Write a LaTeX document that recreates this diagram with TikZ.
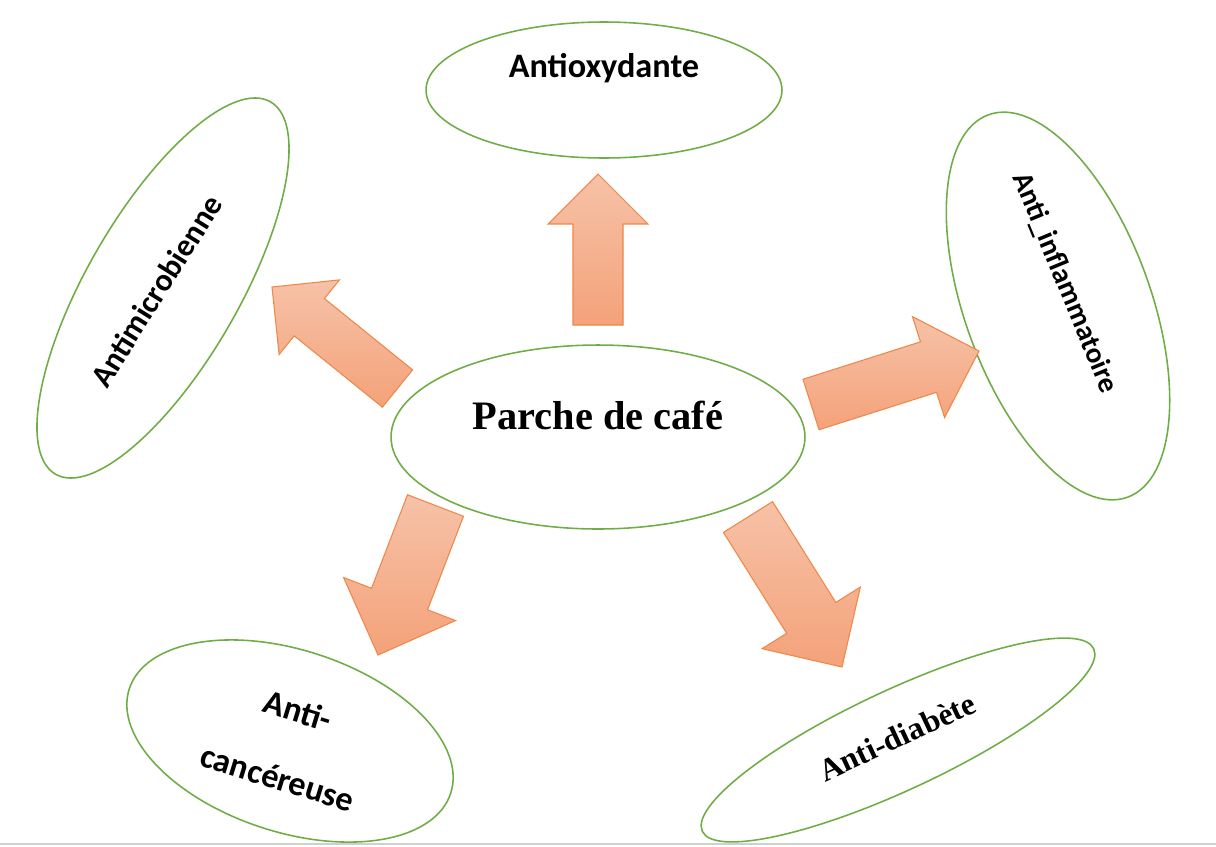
\documentclass[tikz,border=0pt]{standalone}
\usepackage{fontspec}
\setmainfont{Liberation Serif}
\newfontfamily\carlito{Carlito}
\usetikzlibrary{shapes.geometric,calc}

\definecolor{leafgreen}{RGB}{112,173,71}
\definecolor{peachtop}{RGB}{246,194,168}
\definecolor{peachbot}{RGB}{244,162,121}
\definecolor{peachline}{RGB}{238,135,72}
\definecolor{pagerule}{RGB}{208,208,208}

\tikzset{
  bubble/.style={ellipse, draw=leafgreen, line width=0.9pt, inner sep=0pt},
  sanslbl/.style={font=\carlito\bfseries\fontsize{#1}{40}\selectfont, align=center, inner sep=0pt},
  seriflbl/.style={font=\bfseries\fontsize{#1}{28}\selectfont, inner sep=0pt},
  arrowbody/.style={top color=peachtop, bottom color=peachbot, draw=peachline, line width=0.6pt, line join=miter}
}

% block arrow: #1 tail, #2 tip, #3 half width of the shaft (cm)
\newcommand{\blockarrow}[3]{%
  \pgfmathsetmacro{\arrowhw}{2*#3}%
  \coordinate (hb) at ($(#2)!\arrowhw cm!(#1)$);
  \shade[arrowbody] ($(#1)!#3cm!90:(#2)$) -- ($(hb)!#3cm!90:(#2)$)
    -- ($(hb)!\arrowhw cm!90:(#2)$) -- (#2) -- ($(hb)!\arrowhw cm!-90:(#2)$)
    -- ($(hb)!#3cm!-90:(#2)$) -- ($(#1)!#3cm!-90:(#2)$) -- cycle;
}

\begin{document}
\begin{tikzpicture}[x=0.02cm, y=-0.02cm]
    \useasboundingbox (0,0) rectangle (1216,846);

    % the six bubbles
    \node[bubble, minimum width=8.28cm, minimum height=3.68cm] (parche) at (598,437) {};
    \node[bubble, minimum width=7.12cm, minimum height=2.72cm] (antiox) at (604,90) {};
    \node[bubble, minimum width=8.6cm, minimum height=3.04cm, rotate=60] (microb) at (163,288) {};
    \node[bubble, minimum width=8.14cm, minimum height=3.72cm, rotate=-70] (inflam) at (1058,306) {};
    \node[bubble, minimum width=6.76cm, minimum height=3.64cm, rotate=-18] (cancer) at (290,741) {};
    \node[bubble, minimum width=8.64cm, minimum height=2cm, rotate=25] (diab) at (898,740) {};

    % labels
    \node[seriflbl=23] (parche-lbl) at ($(parche)+(0,-22)$) {Parche de café};
    \node[sanslbl=19.5] (antiox-lbl) at ($(antiox)+(0,-22)$) {Antioxydante};
    \node[sanslbl=18, rotate=58] (microb-lbl) at ($(microb)+(-7,3)$) {Antimicrobienne};
    \node[sanslbl=16.5, rotate=-67.5] (inflam-lbl) at ($(inflam)+(7,-23)$) {Anti\_inflammatoire};
    \node[sanslbl=19.5, rotate=-17] (cancer-lbl) at ($(cancer)+(-2,3)$) {Anti-\\cancéreuse};
    \node[seriflbl=18, rotate=25] (diab-lbl) at ($(diab)+(-1,-3)$) {Anti-diabète};

    % arrow ends
    \coordinate (up-tail) at (598,325);     \coordinate (up-tip) at (598,174);
    \coordinate (ul-tail) at (397.5,388.5); \coordinate (ul-tip) at (272,287);
    \coordinate (r-tail) at (811,404.5);    \coordinate (r-tip) at (979,351);
    \coordinate (ll-tail) at (435.5,505.5); \coordinate (ll-tip) at (378,655);
    \coordinate (lr-tail) at (748,517);     \coordinate (lr-tip) at (842,667);

    % the five block arrows
    \blockarrow{up-tail}{up-tip}{0.5}
    \blockarrow{ul-tail}{ul-tip}{0.48}
    \blockarrow{r-tail}{r-tip}{0.53}
    \blockarrow{ll-tail}{ll-tip}{0.6}
    \blockarrow{lr-tail}{lr-tip}{0.58}

    % page edge
    \draw[pagerule, line width=1pt] (0,844) -- (1216,844);
\end{tikzpicture}
\end{document}
